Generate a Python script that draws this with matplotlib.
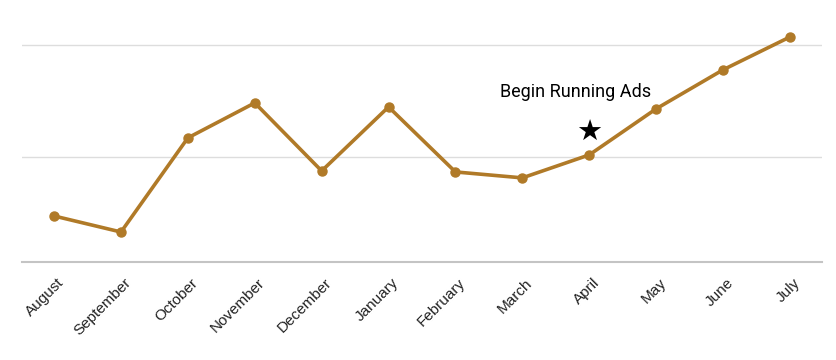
import matplotlib
matplotlib.use("Agg")
import matplotlib.pyplot as plt
from matplotlib.transforms import ScaledTranslation

months = ["August", "September", "October", "November", "December", "January",
          "February", "March", "April", "May", "June", "July"]
values = [47.3, 33.0, 117.0, 148.2, 87.5, 144.6, 86.6, 81.3, 101.8, 142.9, 177.7, 207.0]
gridlines = [100, 200]
annotation_month = "April"
annotation_text = "Begin Running Ads"

color = "#B07A28"

fig = plt.figure(figsize=(8.37, 3.6), dpi=100)
ax = fig.add_axes([22/837, 1 - 262/360, 800/837, 262/360])

x = list(range(len(months)))
ax.plot(x, values, color=color, lw=2.6, marker="o", ms=6.5, zorder=3,
        solid_capstyle="round", solid_joinstyle="round")

for g in gridlines:
    ax.axhline(g, color="#dddddd", lw=1.0, zorder=1)

ax.set_xlim(-0.48, 11.48)
ax.set_ylim(6.25, 240)

for s in ["top", "right", "left"]:
    ax.spines[s].set_visible(False)
ax.spines["bottom"].set_color("#c4c4c4")
ax.spines["bottom"].set_linewidth(1.5)

ax.set_yticks([])
ax.set_xticks(x)
ax.set_xticklabels(months, rotation=45, ha="right", rotation_mode="anchor",
                   fontsize=11, color="#222222", family="Liberation Sans")
ax.tick_params(axis="x", length=0, pad=10)
offset = ScaledTranslation(3/100, 0, fig.dpi_scale_trans)
for lbl in ax.get_xticklabels():
    lbl.set_transform(lbl.get_transform() + offset)

ai = months.index(annotation_month)
av = values[ai]
ax.annotate("★", xy=(ai, av), xytext=(0, 16), textcoords="offset points",
            ha="center", va="center", fontsize=21, color="black",
            family="DejaVu Sans")
ax.annotate(annotation_text, xy=(ai, av), xytext=(-10, 45), textcoords="offset points",
            ha="center", va="center", fontsize=13, color="black", family="Roboto")

fig.savefig("out.png", dpi=100)
